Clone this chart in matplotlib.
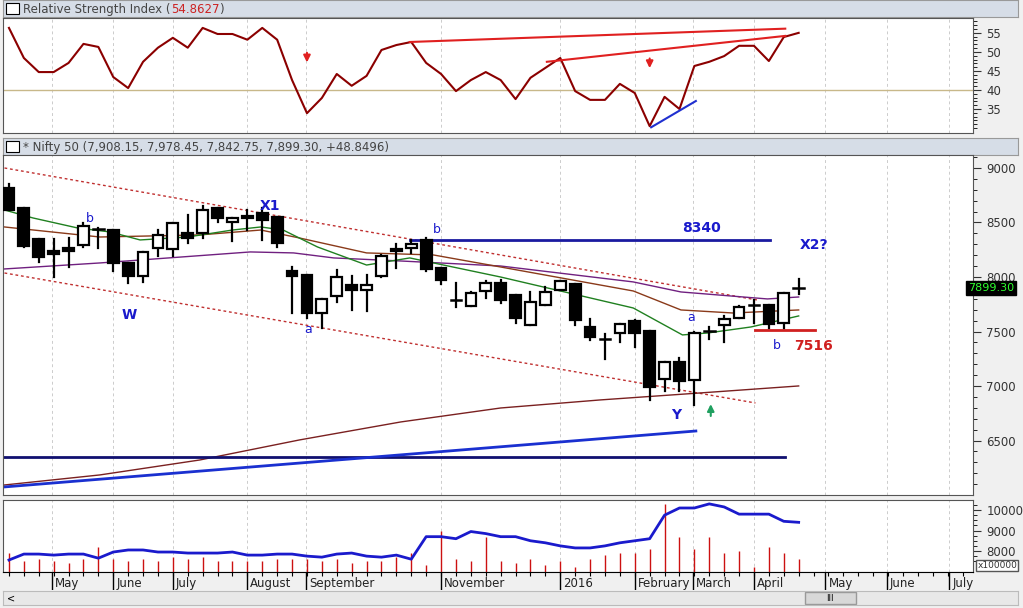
import matplotlib
matplotlib.use("Agg")
import matplotlib.pyplot as plt
from matplotlib.patches import Rectangle
import numpy as np

W, H = 1023, 608

# weekly candles (index 0..53)
opens = [8817, 8633, 8349, 8239, 8266, 8294, 8450, 8431, 8129, 8010,
         8266, 8257, 8404, 8404, 8633, 8505, 8541, 8587, 8551, 8056,
         8019, 7670, 7826, 7927, 7881, 8010, 8240, 8266, 8340, 8083,
         7799, 7735, 7872, 7945, 7835, 7560, 7744, 7881, 7936, 7542,
         7432, 7487, 7597, 7505, 7065, 7221, 7056, 7505, 7560, 7624,
         7744, 7744, 7579, 7908]
highs = [8853, 8633, 8349, 8349, 8358, 8496, 8450, 8431, 8129, 8230,
         8431, 8496, 8569, 8651, 8633, 8541, 8615, 8633, 8551, 8092,
         8019, 7800, 8065, 8010, 8019, 8202, 8303, 8340, 8358, 8083,
         7945, 7863, 7964, 7973, 7835, 7863, 7909, 7964, 7936, 7615,
         7478, 7569, 7606, 7505, 7221, 7258, 7496, 7542, 7643, 7735,
         7790, 7744, 7854, 7978]
lows = [8615, 8276, 8138, 8000, 8092, 8276, 8266, 8056, 7945, 7955,
        8193, 8193, 8312, 8358, 8505, 8331, 8431, 8340, 8276, 7670,
        7624, 7533, 7771, 7698, 7689, 8000, 8083, 8221, 8056, 7936,
        7725, 7735, 7808, 7762, 7579, 7560, 7744, 7881, 7560, 7423,
        7249, 7404, 7359, 6873, 6955, 6955, 6827, 7432, 7404, 7624,
        7579, 7533, 7533, 7843]
closes = [8615, 8285, 8184, 8211, 8239, 8468, 8440, 8129, 8010, 8230,
          8386, 8496, 8358, 8615, 8541, 8541, 8560, 8523, 8312, 8010,
          7670, 7799, 8000, 7881, 7927, 8193, 8257, 8303, 8074, 7973,
          7790, 7854, 7945, 7790, 7624, 7771, 7863, 7964, 7606, 7450,
          7432, 7569, 7487, 6992, 7221, 7047, 7487, 7505, 7615, 7725,
          7744, 7569, 7854, 7899]

# moving averages read as waypoints (index, price)
ma_green_x = [-0.3, 1.6, 4.6, 6.8, 8.8, 12, 15, 16.9, 18.4, 20.7, 24, 26.9, 28.5, 33, 41.9, 45.2, 46.9, 49.8, 53]
ma_green_y = [8615, 8542, 8450, 8413, 8340, 8367, 8431, 8459, 8431, 8276, 8110, 8175, 8129, 8000, 7716, 7469, 7487, 7542, 7643]
ma_brown_x = [-0.3, 6.1, 12.8, 16.9, 19.5, 24, 28.5, 33, 41.9, 45.1, 48.6, 53]
ma_brown_y = [8459, 8367, 8386, 8431, 8358, 8221, 8202, 8092, 7872, 7698, 7670, 7698]
ma_purple_x = [-0.3, 6.1, 16.2, 19.1, 21.8, 26.3, 33, 41.9, 45.1, 50.9, 53]
ma_purple_y = [8074, 8129, 8230, 8221, 8175, 8147, 8101, 7955, 7863, 7799, 7817]
ma_long_x = [-0.3, 6.1, 12.8, 19.5, 26.3, 33, 39.7, 46.4, 53]
ma_long_y = [6093, 6185, 6322, 6506, 6671, 6799, 6873, 6937, 7001]

rsi = [56.3, 48.4, 44.7, 44.7, 47.1, 52.1, 51.3, 43.4, 40.5, 47.4,
       51.1, 53.7, 51.1, 56.3, 54.7, 54.7, 53.2, 56.3, 53.2, 42.6,
       33.9, 37.9, 44.2, 41.1, 43.7, 50.5, 51.8, 52.6, 47.1, 44.2,
       39.7, 42.6, 44.7, 42.6, 37.6, 43.2, 45.8, 48.4, 39.7, 37.4,
       37.4, 41.6, 39.2, 30.5, 38.2, 35.0, 46.3, 47.4, 48.9, 51.6,
       51.6, 47.6, 53.9, 55.0]

vol_line = [7560, 7850, 7850, 7800, 7850, 7850, 7650, 7950, 8050, 8050,
            7950, 7950, 7900, 7900, 7900, 7950, 7800, 7800, 7850, 7850,
            7750, 7700, 7850, 7900, 7750, 7700, 7800, 7600, 8700, 8700,
            8600, 8950, 8850, 8700, 8700, 8500, 8400, 8250, 8150, 8150,
            8250, 8400, 8500, 8600, 9750, 10100, 10100, 10300, 10150, 9800,
            9800, 9800, 9450, 9400]
vol_bars = [7900, 7500, 7600, 7500, 7400, 7600, 8200, 7600, 7500, 7600,
            7500, 7700, 7600, 7700, 7500, 7500, 7500, 7500, 7600, 7600,
            7600, 7500, 7600, 7400, 7500, 7500, 7700, 7900, 7300, 9000,
            7600, 7500, 8700, 7500, 7400, 7600, 7300, 7500, 7200, 7600,
            7800, 7900, 7900, 8100, 10300, 8700, 8100, 8700, 7900, 8000,
            7200, 8200, 7900, 7600]

month_labels = ["May", "June", "July", "August", "September", "November", "2016",
                "February", "March", "April", "May", "June", "July"]
month_pos = [2.9, 7.0, 11.0, 16.0, 19.95, 29.0, 37.0, 42.0, 45.9, 50.0, 54.8, 58.9, 63.1]

price_ticks = [6500, 7000, 7500, 8000, 8500, 9000]
rsi_ticks = [35, 40, 45, 50, 55]
vol_ticks = [8000, 9000, 10000]

X0, X1 = -0.4, 64.7
fig = plt.figure(figsize=(W / 100, H / 100), dpi=100, facecolor="#f0f0f0")


def ax_px(l, t, r, b):
    return fig.add_axes([l / W, 1 - b / H, (r - l) / W, (b - t) / H])


def style(ax, ylim, ticks):
    ax.set_xlim(X0, X1)
    ax.set_ylim(*ylim)
    ax.set_facecolor("white")
    ax.yaxis.tick_right()
    ax.set_yticks(ticks)
    ax.tick_params(axis="y", direction="out", length=6, labelsize=8.5, colors="#333333")
    ax.set_xticks([])
    for s in ax.spines.values():
        s.set_color("#555555")
    for m in month_pos:
        ax.axvline(m, color="#cccccc", lw=0.7, ls=(0, (3, 3)), zorder=0)


def header(t, b):
    hb = ax_px(3, t, 1018, b)
    hb.set_facecolor("#d6dde7")
    hb.set_xticks([]); hb.set_yticks([])
    for s in hb.spines.values():
        s.set_color("#999999")
    hb.add_patch(Rectangle((0.003, 0.2), 0.013, 0.6, transform=hb.transAxes, fc="white", ec="black", lw=0.8))
    return hb


# header bars
hr = header(0, 17)
t1 = hr.text(0.02, 0.45, "Relative Strength Index (", transform=hr.transAxes, va="center", fontsize=8.5, color="#444444")
t2 = hr.annotate("54.8627", xy=(1, 0), xycoords=t1, va="bottom", fontsize=8.5, color="#cc2222")
hr.annotate(")", xy=(1, 0), xycoords=t2, va="bottom", fontsize=8.5, color="#444444")
hn = header(138, 155)
hn.text(0.02, 0.45, "* Nifty 50 (7,908.15, 7,978.45, 7,842.75, 7,899.30, +48.8496)", transform=hn.transAxes,
        va="center", fontsize=8.5, color="#444444")

# RSI panel
ar = ax_px(3, 18, 973, 133)
style(ar, (28.7, 58.9), rsi_ticks)
ar.set_yticks(np.arange(30, 59, 1), minor=True)
ar.tick_params(axis="y", which="minor", length=3, direction="out")
idx = np.arange(len(rsi))
ar.axhline(40, color="#c8b88a", lw=1)
ar.plot(idx, rsi, color="#8b0000", lw=1.5)
ar.plot([26.9, 52.1], [52.6, 56.1], color="#e02020", lw=1.5)
ar.plot([36.1, 52.1], [47.4, 54.2], color="#e02020", lw=1.5)
ar.plot([43.1, 46.1], [30.2, 37.1], color="#2030d0", lw=1.5)
ar.annotate("", xy=(20.0, 46.5), xytext=(20.0, 50.5), arrowprops=dict(arrowstyle="-|>", color="#e02020", lw=1.5))
ar.annotate("", xy=(43.0, 45.0), xytext=(43.0, 49.0), arrowprops=dict(arrowstyle="-|>", color="#e02020", lw=1.5))

# price panel
ap = ax_px(3, 155, 973, 495)
style(ap, (6001, 9119), price_ticks)
ap.set_yticks(np.arange(6100, 9101, 100), minor=True)
ap.tick_params(axis="y", which="minor", length=3, direction="out")
ap.plot([-0.3, 50.2], [9000, 7790], color="#c03030", lw=1, ls=(0, (2, 2)))
ap.plot([-0.3, 50.1], [8037, 6845], color="#c03030", lw=1, ls=(0, (2, 2)))
ap.plot(ma_long_x, ma_long_y, color="#7a2020", lw=1)
ap.plot(ma_purple_x, ma_purple_y, color="#702080", lw=1)
ap.plot(ma_brown_x, ma_brown_y, color="#8a3a1a", lw=1)
ap.plot(ma_green_x, ma_green_y, color="#208020", lw=1)
ap.plot([26.9, 51.1], [8340, 8340], color="#1a1aa0", lw=2)
ap.plot([-0.3, 52.1], [6350, 6350], color="#101070", lw=2)
ap.plot([-0.3, 46.1], [6075, 6588], color="#1a30d0", lw=2)
ap.plot([50.1, 54.1], [7516, 7516], color="#d02020", lw=2)
bw = 0.72
for i in range(len(opens)):
    o, h, l, c = opens[i], highs[i], lows[i], closes[i]
    ap.plot([i, i], [l, h], color="black", lw=1.6, zorder=3)
    lo, hi = min(o, c), max(o, c)
    if hi - lo < 15:
        ap.plot([i - bw / 2, i + bw / 2], [c, c], color="black", lw=1.8, zorder=4)
    else:
        ap.add_patch(Rectangle((i - bw / 2, lo), bw, hi - lo, fc="black" if c < o else "white",
                               ec="black", lw=1.6, zorder=4))
blue = "#1a1acc"
for (x, y, s, fs, bold, col) in [(5.4, 8540, "b", 9, False, blue), (8.1, 7650, "W", 10, True, blue),
                                 (17.5, 8650, "X1", 10, True, blue), (20.1, 7520, "a", 9, False, blue),
                                 (28.7, 8440, "b", 9, False, blue), (46.5, 8450, "8340", 10, True, blue),
                                 (54.0, 8290, "X2?", 10, True, blue), (45.8, 7630, "a", 9, False, blue),
                                 (51.5, 7370, "b", 9, False, blue), (54.0, 7370, "7516", 10, True, "#d02020"),
                                 (44.8, 6735, "Y", 10, True, blue)]:
    ap.text(x, y, s, ha="center", va="center", fontsize=fs, color=col, fontweight="bold" if bold else "normal")
ap.annotate("", xy=(47.1, 6860), xytext=(47.1, 6700), arrowprops=dict(arrowstyle="-|>", color="#20a060", lw=1.5))
ap.text(65.9, 7899, "7899.30", ha="center", va="center", fontsize=8, color="#30ff30",
        bbox=dict(fc="black", ec="black", pad=1.5), clip_on=False)

# volume panel
av = ax_px(3, 500, 973, 572)
style(av, (6975, 10490), vol_ticks)
av.set_yticks(np.arange(7500, 10500, 250), minor=True)
av.tick_params(axis="y", which="minor", length=3, direction="out")
av.vlines(np.arange(len(vol_bars)), 6975, vol_bars, color="#cc1111", lw=1)
av.plot(np.arange(len(vol_line)), vol_line, color="#1a1acc", lw=2)
av.text(65.0, 7300, "x100000", ha="left", va="center", fontsize=6.5, color="#333333",
        bbox=dict(fc="white", ec="#555555", pad=0.8), clip_on=False)

# date axis
ad = ax_px(3, 572, 973, 590)
ad.set_xlim(X0, X1)
ad.set_ylim(0, 1)
ad.set_facecolor("#f0f0f0")
ad.set_yticks([])
ad.set_xticks(np.arange(0, 65, 1))
ad.tick_params(axis="x", direction="in", length=3, labelbottom=False, top=True, bottom=False)
for s in ad.spines.values():
    s.set_visible(False)
ad.spines["top"].set_visible(True)
for m, lab in zip(month_pos, month_labels):
    ad.axvline(m, color="black", lw=1)
    ad.text(m + 0.2, 0.35, lab, fontsize=8.5, va="center", ha="left", color="#222222")

# scrollbar strip
sb = ax_px(3, 591, 1018, 605)
sb.set_facecolor("#e8e8e8")
sb.set_xticks([]); sb.set_yticks([])
for s in sb.spines.values():
    s.set_color("#bbbbbb")
sb.add_patch(Rectangle((0.79, 0.1), 0.05, 0.8, transform=sb.transAxes, fc="#d8d8d8", ec="#999999"))
sb.text(0.815, 0.45, "III", transform=sb.transAxes, ha="center", va="center", fontsize=6)
sb.text(0.004, 0.45, "<", transform=sb.transAxes, ha="left", va="center", fontsize=7)

fig.savefig("out.png", dpi=100, facecolor=fig.get_facecolor())
